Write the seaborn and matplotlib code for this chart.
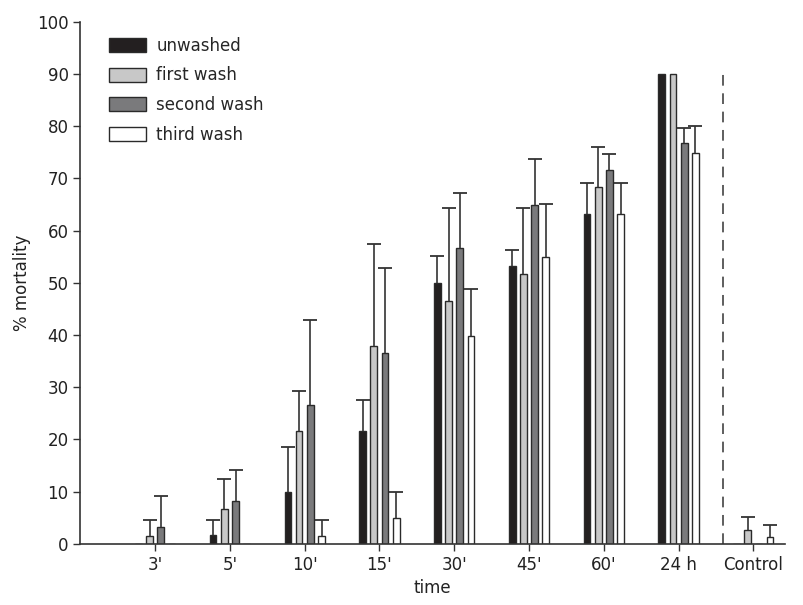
import matplotlib

matplotlib.use("Agg")
import matplotlib.pyplot as plt
import numpy as np
import pandas as pd
import seaborn as sns
from matplotlib.patches import Patch

times = ["3'", "5'", "10'", "15'", "30'", "45'", "60'", "24 h", "Control"]
washes = ["unwashed", "first wash", "second wash", "third wash"]

# mean % mortality per wash, in the order of `times`
unwashed = [0, 1.7, 9.9, 21.7, 49.9, 53.3, 63.2, 90, 0]
first_wash = [1.6, 6.6, 21.6, 37.9, 46.5, 51.7, 68.3, 90, 2.6]
second_wash = [3.2, 8.3, 26.6, 36.5, 56.6, 64.9, 71.6, 76.7, 0]
third_wash = [0, 0, 1.6, 4.9, 39.9, 54.9, 63.2, 74.9, 1.3]

# upper end of the error bars (nan = no bar)
unwashed_err = [np.nan, 4.6, 18.6, 27.5, 55.1, 56.3, 69.2, np.nan, np.nan]
first_wash_err = [4.6, 12.5, 29.3, 57.4, 64.3, 64.3, 76.0, np.nan, 5.2]
second_wash_err = [9.2, 14.1, 42.8, 52.8, 67.2, 73.7, 74.6, 79.6, np.nan]
third_wash_err = [np.nan, np.nan, 4.6, 10.0, 48.8, 65.1, 69.2, 80.1, 3.7]

colors = {
    "unwashed": "#231f20",
    "first wash": "#c8c8c8",
    "second wash": "#7a7a7c",
    "third wash": "#ffffff",
}

means = [unwashed, first_wash, second_wash, third_wash]
tops = [unwashed_err, first_wash_err, second_wash_err, third_wash_err]

df = pd.DataFrame(
    {
        "time": times * len(washes),
        "wash": np.repeat(washes, len(times)),
        "mortality": np.concatenate(means),
    }
)

sns.set_style("ticks")
plt.rcParams["font.family"] = ["DejaVu Sans"]

fig, ax = plt.subplots(figsize=(8.04, 6.05), dpi=100)
fig.subplots_adjust(left=0.1, right=0.976, bottom=0.101, top=0.964)

sns.barplot(
    data=df,
    x="time",
    y="mortality",
    hue="wash",
    order=times,
    hue_order=washes,
    palette=colors,
    width=0.6,
    gap=0.4,
    errorbar=None,
    edgecolor="#2a2a2a",
    linewidth=1.0,
    legend=False,
    ax=ax,
)

# one-sided error bars on top of each bar, cap only at the upper end
for container, vals, err in zip(ax.containers, means, tops):
    xs = [bar.get_x() + bar.get_width() / 2 for bar in container]
    vals = np.asarray(vals, dtype=float)
    up = np.asarray(err, dtype=float) - vals
    eb = ax.errorbar(
        xs,
        vals,
        yerr=[np.zeros_like(up), up],
        fmt="none",
        ecolor="#333333",
        elinewidth=1.2,
        capsize=5,
        capthick=1.3,
        zorder=1,
    )
    eb.lines[1][0].set_visible(False)

ax.axvline(7.6, ymax=0.9, color="#333333", linestyle=(0, (7, 5)), linewidth=1.1)

ax.set_xlim(-1.0, 8.42)
ax.set_ylim(0, 100)
ax.set_yticks(range(0, 101, 10))
ax.set_xlabel("time", fontsize=12, color="#222222")
ax.set_ylabel("% mortality", fontsize=12, color="#222222")
ax.tick_params(labelsize=12, length=5, width=1, color="#333333", labelcolor="#222222")
for side in ["left", "bottom"]:
    ax.spines[side].set_linewidth(1.2)
    ax.spines[side].set_color("#333333")
sns.despine(ax=ax)

handles = [Patch(facecolor=colors[w], edgecolor="#2a2a2a", linewidth=1.0) for w in washes]
ax.legend(
    handles,
    washes,
    loc="upper left",
    bbox_to_anchor=(0.02, 1.0),
    frameon=False,
    fontsize=12,
    handlelength=2.2,
    handleheight=0.9,
    labelspacing=0.7,
    handletextpad=0.6,
)

fig.savefig("out.png", dpi=100)
plt.close(fig)
